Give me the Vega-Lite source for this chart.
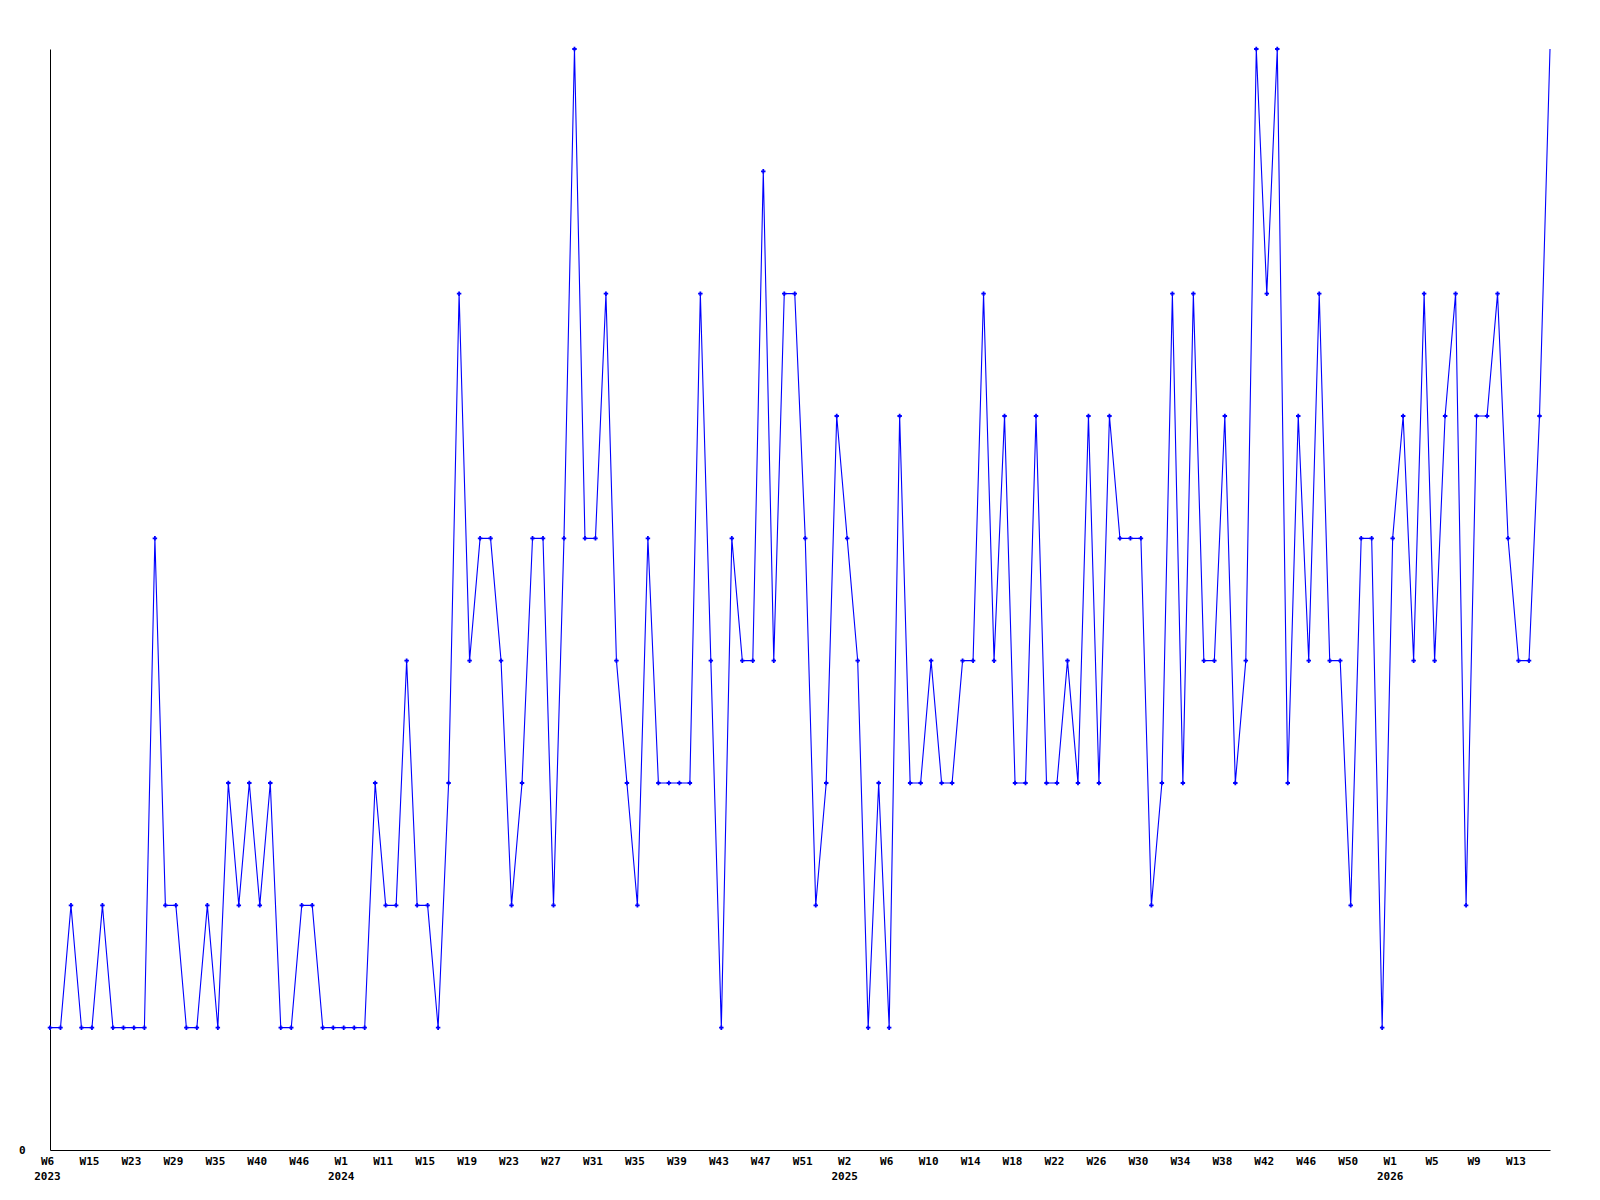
{
  "$schema": "https://vega.github.io/schema/vega-lite/v6.json",
  "width": 1500,
  "height": 1101,
  "autosize": {"type": "none"},
  "padding": {"left": 50, "top": 49, "right": 50, "bottom": 50},
  "background": "white",
  "config": {"view": {"stroke": null}},
  "data": {"values": [
    {"week": "2023 W6", "value": 1}, {"week": "2023 W8", "value": 1}, {"week": "2023 W10", "value": 2}, {"week": "2023 W12", "value": 1},
    {"week": "2023 W15", "value": 1}, {"week": "2023 W17", "value": 2}, {"week": "2023 W19", "value": 1}, {"week": "2023 W21", "value": 1},
    {"week": "2023 W23", "value": 1}, {"week": "2023 W24", "value": 1}, {"week": "2023 W26", "value": 5}, {"week": "2023 W27", "value": 2},
    {"week": "2023 W29", "value": 2}, {"week": "2023 W30", "value": 1}, {"week": "2023 W32", "value": 1}, {"week": "2023 W33", "value": 2},
    {"week": "2023 W35", "value": 1}, {"week": "2023 W36", "value": 3}, {"week": "2023 W37", "value": 2}, {"week": "2023 W38", "value": 3},
    {"week": "2023 W40", "value": 2}, {"week": "2023 W41", "value": 3}, {"week": "2023 W43", "value": 1}, {"week": "2023 W44", "value": 1},
    {"week": "2023 W46", "value": 2}, {"week": "2023 W48", "value": 2}, {"week": "2023 W50", "value": 1}, {"week": "2024 W0", "value": 1},
    {"week": "2024 W1", "value": 1}, {"week": "2024 W3", "value": 1}, {"week": "2024 W6", "value": 1}, {"week": "2024 W8", "value": 3},
    {"week": "2024 W11", "value": 2}, {"week": "2024 W12", "value": 2}, {"week": "2024 W13", "value": 4}, {"week": "2024 W14", "value": 2},
    {"week": "2024 W15", "value": 2}, {"week": "2024 W16", "value": 1}, {"week": "2024 W17", "value": 3}, {"week": "2024 W18", "value": 7},
    {"week": "2024 W19", "value": 4}, {"week": "2024 W20", "value": 5}, {"week": "2024 W21", "value": 5}, {"week": "2024 W22", "value": 4},
    {"week": "2024 W23", "value": 2}, {"week": "2024 W24", "value": 3}, {"week": "2024 W25", "value": 5}, {"week": "2024 W26", "value": 5},
    {"week": "2024 W27", "value": 2}, {"week": "2024 W28", "value": 5}, {"week": "2024 W29", "value": 9}, {"week": "2024 W30", "value": 5},
    {"week": "2024 W31", "value": 5}, {"week": "2024 W32", "value": 7}, {"week": "2024 W33", "value": 4}, {"week": "2024 W34", "value": 3},
    {"week": "2024 W35", "value": 2}, {"week": "2024 W36", "value": 5}, {"week": "2024 W37", "value": 3}, {"week": "2024 W38", "value": 3},
    {"week": "2024 W39", "value": 3}, {"week": "2024 W40", "value": 3}, {"week": "2024 W41", "value": 7}, {"week": "2024 W42", "value": 4},
    {"week": "2024 W43", "value": 1}, {"week": "2024 W44", "value": 5}, {"week": "2024 W45", "value": 4}, {"week": "2024 W46", "value": 4},
    {"week": "2024 W47", "value": 8}, {"week": "2024 W48", "value": 4}, {"week": "2024 W49", "value": 7}, {"week": "2024 W50", "value": 7},
    {"week": "2024 W51", "value": 5}, {"week": "2024 W52", "value": 2}, {"week": "2025 W0", "value": 3}, {"week": "2025 W1", "value": 6},
    {"week": "2025 W2", "value": 5}, {"week": "2025 W3", "value": 4}, {"week": "2025 W4", "value": 1}, {"week": "2025 W5", "value": 3},
    {"week": "2025 W6", "value": 1}, {"week": "2025 W7", "value": 6}, {"week": "2025 W8", "value": 3}, {"week": "2025 W9", "value": 3},
    {"week": "2025 W10", "value": 4}, {"week": "2025 W11", "value": 3}, {"week": "2025 W12", "value": 3}, {"week": "2025 W13", "value": 4},
    {"week": "2025 W14", "value": 4}, {"week": "2025 W15", "value": 7}, {"week": "2025 W16", "value": 4}, {"week": "2025 W17", "value": 6},
    {"week": "2025 W18", "value": 3}, {"week": "2025 W19", "value": 3}, {"week": "2025 W20", "value": 6}, {"week": "2025 W21", "value": 3},
    {"week": "2025 W22", "value": 3}, {"week": "2025 W23", "value": 4}, {"week": "2025 W24", "value": 3}, {"week": "2025 W25", "value": 6},
    {"week": "2025 W26", "value": 3}, {"week": "2025 W27", "value": 6}, {"week": "2025 W28", "value": 5}, {"week": "2025 W29", "value": 5},
    {"week": "2025 W30", "value": 5}, {"week": "2025 W31", "value": 2}, {"week": "2025 W32", "value": 3}, {"week": "2025 W33", "value": 7},
    {"week": "2025 W34", "value": 3}, {"week": "2025 W35", "value": 7}, {"week": "2025 W36", "value": 4}, {"week": "2025 W37", "value": 4},
    {"week": "2025 W38", "value": 6}, {"week": "2025 W39", "value": 3}, {"week": "2025 W40", "value": 4}, {"week": "2025 W41", "value": 9},
    {"week": "2025 W42", "value": 7}, {"week": "2025 W43", "value": 9}, {"week": "2025 W44", "value": 3}, {"week": "2025 W45", "value": 6},
    {"week": "2025 W46", "value": 4}, {"week": "2025 W47", "value": 7}, {"week": "2025 W48", "value": 4}, {"week": "2025 W49", "value": 4},
    {"week": "2025 W50", "value": 2}, {"week": "2025 W51", "value": 5}, {"week": "2025 W52", "value": 5}, {"week": "2026 W0", "value": 1},
    {"week": "2026 W1", "value": 5}, {"week": "2026 W2", "value": 6}, {"week": "2026 W3", "value": 4}, {"week": "2026 W4", "value": 7},
    {"week": "2026 W5", "value": 4}, {"week": "2026 W6", "value": 6}, {"week": "2026 W7", "value": 7}, {"week": "2026 W8", "value": 2},
    {"week": "2026 W9", "value": 6}, {"week": "2026 W10", "value": 6}, {"week": "2026 W11", "value": 7}, {"week": "2026 W12", "value": 5},
    {"week": "2026 W13", "value": 4}, {"week": "2026 W14", "value": 4}, {"week": "2026 W15", "value": 6}, {"week": "2026 W16", "value": 9}
  ]},
  "encoding": {
    "x": {
      "field": "week", "type": "ordinal", "sort": null,
      "scale": {"type": "point", "padding": 0},
      "axis": {
        "title": null, "ticks": false, "grid": false, "domain": true, "domainColor": "#000000", "domainWidth": 1,
        "labelAngle": 0, "labelFont": "DejaVu Sans Mono", "labelFontWeight": "bold", "labelFontSize": 11,
        "labelColor": "#000000", "labelPadding": 5, "labelLineHeight": 15, "labelOverlap": false, "labelFlush": false,
        "labelOffset": -3,
        "values": ["2023 W6", "2023 W15", "2023 W23", "2023 W29", "2023 W35", "2023 W40", "2023 W46", "2024 W1", "2024 W11", "2024 W15", "2024 W19", "2024 W23", "2024 W27", "2024 W31", "2024 W35", "2024 W39", "2024 W43", "2024 W47", "2024 W51", "2025 W2", "2025 W6", "2025 W10", "2025 W14", "2025 W18", "2025 W22", "2025 W26", "2025 W30", "2025 W34", "2025 W38", "2025 W42", "2025 W46", "2025 W50", "2026 W1", "2026 W5", "2026 W9", "2026 W13"],
        "labelExpr": "indexof(['2023 W6','2024 W1','2025 W2','2026 W1'], datum.value) >= 0 ? [split(datum.value,' ')[1], split(datum.value,' ')[0]] : split(datum.value,' ')[1]"
      }
    },
    "y": {
      "field": "value", "type": "quantitative",
      "scale": {"domain": [0, 9], "nice": false, "zero": true},
      "axis": {
        "title": null, "ticks": false, "grid": false, "domain": true, "domainColor": "#000000", "domainWidth": 1,
        "values": [0], "labelFont": "DejaVu Sans Mono", "labelFontWeight": "bold", "labelFontSize": 11,
        "labelColor": "#000000", "labelPadding": 25
      }
    }
  },
  "layer": [
    {"mark": {"type": "line", "color": "#0000ff", "strokeWidth": 1.1, "clip": false}},
    {
      "transform": [{"filter": "datum.week != '2026 W16'"}],
      "mark": {"type": "point", "shape": "cross", "size": 20, "filled": true, "color": "#0000ff", "opacity": 1}
    }
  ]
}
